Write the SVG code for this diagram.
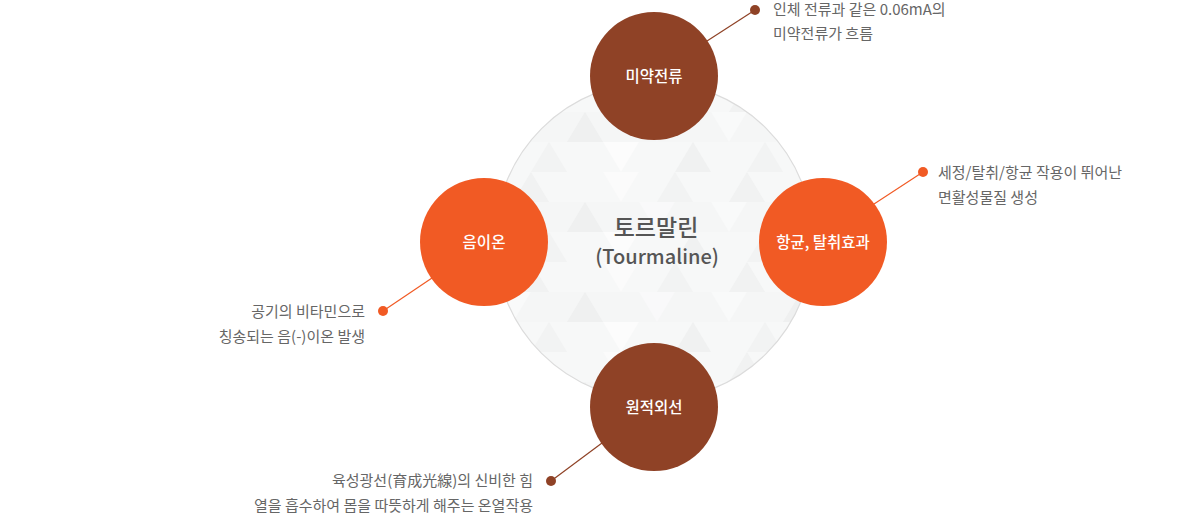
<svg xmlns="http://www.w3.org/2000/svg" width="1200" height="515" viewBox="0 0 1200 515">
  <defs>
    <style>
      .brown { fill: #8f4226; }
      .orange { fill: #f15a24; }
      .lbl { font-family: "Noto Sans CJK KR", "Noto Sans", sans-serif; font-size: 15.5px; fill: #ffffff; text-anchor: middle; font-weight: 500; }
      .ann { font-family: "Noto Sans CJK KR", "Noto Sans", sans-serif; font-size: 15px; fill: #666666; }
      .ann-r { text-anchor: end; }
      .ln-brown { stroke: #8f4226; stroke-width: 1.2; fill: none; }
      .ln-orange { stroke: #f15a24; stroke-width: 1.2; fill: none; }
      .center-title { font-family: "Noto Sans CJK KR", "Noto Sans", sans-serif; fill: #555555; text-anchor: middle; font-weight: 500; }
    </style>
    <pattern id="tri" patternUnits="userSpaceOnUse" x="495" y="82" width="216" height="90">
      <rect width="216" height="90" fill="#f7f8f8"/>
      <rect y="30" width="216" height="30" fill="#f5f6f6"/>
      <polygon points="18,30 36,0 54,30" fill="#f1f2f2"/>
      <polygon points="108,0 126,30 144,0" fill="#fbfbfb"/>
      <polygon points="162,30 180,0 198,30" fill="#f2f3f3"/>
      <polygon points="0,30 18,60 36,30" fill="#f9fafa"/>
      <polygon points="72,60 90,30 108,60" fill="#eff0f0"/>
      <polygon points="144,30 162,60 180,30" fill="#f9f9fa"/>
      <polygon points="36,90 54,60 72,90" fill="#f2f3f3"/>
      <polygon points="108,60 126,90 144,60" fill="#fcfcfc"/>
      <polygon points="180,90 198,60 216,90" fill="#f0f1f1"/>
    </pattern>
  </defs>

  <rect width="1200" height="515" fill="#ffffff"/>

  <g id="center">
    <circle cx="654" cy="241" r="159" fill="url(#tri)" stroke="#dcdcdc" stroke-width="1.2"/>
    <text class="center-title" x="656" y="236" font-size="23">토르말린</text>
    <text class="center-title" x="657" y="264" font-size="20">(Tourmaline)</text>
  </g>

  <g id="connectors">
    <line class="ln-brown" x1="755" y1="10" x2="707" y2="41"/>
    <circle cx="755" cy="10" r="5" class="brown"/>
    <line class="ln-orange" x1="923" y1="172" x2="874" y2="204"/>
    <circle cx="923" cy="172" r="5" class="orange"/>
    <line class="ln-orange" x1="383" y1="311" x2="432" y2="278"/>
    <circle cx="383" cy="311" r="5" class="orange"/>
    <line class="ln-brown" x1="551" y1="481" x2="602" y2="443"/>
    <circle cx="551" cy="481" r="5" class="brown"/>
  </g>

  <g id="node-current">
    <circle cx="654" cy="76" r="64" class="brown"/>
    <text class="lbl" x="654" y="81.5">미약전류</text>
  </g>

  <g id="node-anion">
    <circle cx="484" cy="242" r="64" class="orange"/>
    <text class="lbl" x="484" y="247.5">음이온</text>
  </g>

  <g id="node-antibacterial">
    <circle cx="823" cy="242" r="64" class="orange"/>
    <text class="lbl" x="823" y="247.5">항균, 탈취효과</text>
  </g>

  <g id="node-infrared">
    <circle cx="654" cy="407" r="64" class="brown"/>
    <text class="lbl" x="654" y="412.5">원적외선</text>
  </g>

  <g id="annotations">
    <text class="ann" x="773" y="15">인체 전류과 같은 0.06mA의</text>
    <text class="ann" x="773" y="39">미약전류가 흐름</text>
    <text class="ann" x="938" y="178">세정/탈취/항균 작용이 뛰어난</text>
    <text class="ann" x="938" y="203">면활성물질 생성</text>
    <text class="ann ann-r" x="365" y="317">공기의 비타민으로</text>
    <text class="ann ann-r" x="365" y="342">칭송되는 음(-)이온 발생</text>
    <text class="ann ann-r" x="533" y="486">육성광선(育成光線)의 신비한 힘</text>
    <text class="ann ann-r" x="533" y="511">열을 흡수하여 몸을 따뜻하게 해주는 온열작용</text>
  </g>
</svg>
